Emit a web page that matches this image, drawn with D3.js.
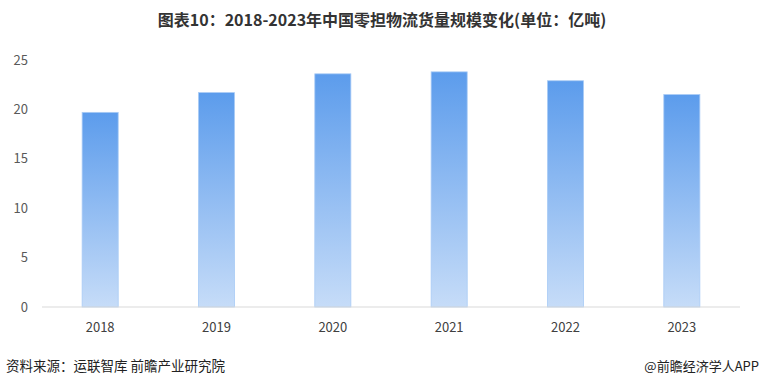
<!DOCTYPE html>
<html>
<head>
<meta charset="utf-8">
<script src="https://cdn.jsdelivr.net/npm/d3@7"></script>
<style>
  body { margin: 0; background: #fff; }
  svg { display: block; font-family: "Noto Sans CJK SC", "Noto Sans", sans-serif; }
</style>
</head>
<body>
<div id="chart"></div>
<script>
const years = ['2018', '2019', '2020', '2021', '2022', '2023'];
const volume = [19.7, 21.7, 23.6, 23.8, 22.9, 21.5];
const yTicks = [0, 5, 10, 15, 20, 25];

const W = 760, H = 387;

const svg = d3.select('#chart').append('svg').attr('width', W).attr('height', H);

const grad = svg.append('defs').append('linearGradient')
  .attr('id', 'barGrad').attr('x1', 0).attr('y1', 0).attr('x2', 0).attr('y2', 1);
grad.append('stop').attr('offset', '0%').attr('stop-color', '#5c9cec');
grad.append('stop').attr('offset', '100%').attr('stop-color', '#c6dcf8');

const xScale = d3.scaleBand().domain(years).range([42, 740]).paddingInner(0.69).paddingOuter(0.345);
const yScale = d3.scaleLinear().domain([0, 25]).range([307, 60]);

// title
svg.append('text')
  .attr('x', 382).attr('y', 26)
  .attr('text-anchor', 'middle')
  .attr('font-size', '16px').attr('font-weight', 'bold').attr('fill', '#333')
  .text('图表10：2018-2023年中国零担物流货量规模变化(单位：亿吨)');

// y axis labels
svg.append('g').selectAll('text').data(yTicks).join('text')
  .attr('x', 28).attr('y', d => yScale(d))
  .attr('dy', '0.35em').attr('text-anchor', 'end')
  .attr('font-size', '13px').attr('fill', '#595959')
  .text(d => d);

// bars
svg.append('g').selectAll('rect').data(volume).join('rect')
  .attr('x', (d, i) => xScale(years[i]))
  .attr('y', d => yScale(d))
  .attr('width', xScale.bandwidth())
  .attr('height', d => yScale(0) - yScale(d))
  .attr('fill', 'url(#barGrad)')
  .attr('stroke', '#a9cbf5').attr('stroke-width', 0.8);

// baseline
svg.append('line')
  .attr('x1', 42).attr('x2', 740)
  .attr('y1', yScale(0)).attr('y2', yScale(0))
  .attr('stroke', '#d9d9d9').attr('stroke-width', 1);

// x labels
svg.append('g').selectAll('text').data(years).join('text')
  .attr('x', d => xScale(d) + xScale.bandwidth() / 2)
  .attr('y', 332)
  .attr('text-anchor', 'middle')
  .attr('font-size', '13px').attr('fill', '#404040')
  .text(d => d);

// footer
svg.append('text')
  .attr('x', 6).attr('y', 371)
  .attr('font-size', '13.5px').attr('fill', '#222')
  .text('资料来源：运联智库 前瞻产业研究院');
svg.append('text')
  .attr('x', 759).attr('y', 371).attr('text-anchor', 'end')
  .attr('font-size', '13px').attr('fill', '#222')
  .text('@前瞻经济学人APP');
</script>
</body>
</html>
